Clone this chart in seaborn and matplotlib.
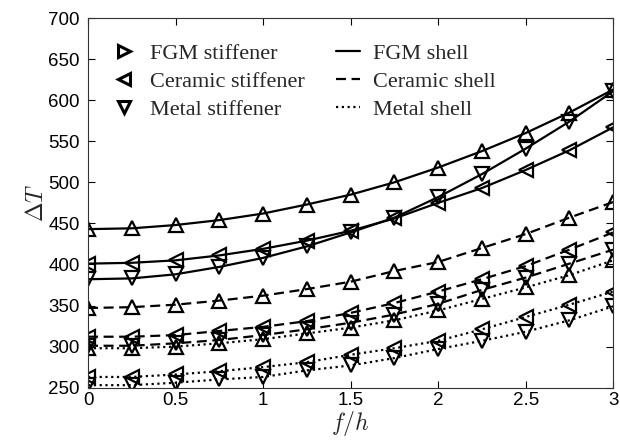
import numpy as np
import pandas as pd
import matplotlib
matplotlib.use("Agg")
import matplotlib.pyplot as plt
import seaborn as sns
from matplotlib.lines import Line2D

# f/h values (13 points)
f_h = [0, 0.25, 0.5, 0.75, 1.0, 1.25, 1.5, 1.75, 2.0, 2.25, 2.5, 2.75, 3.0]

# FGM shell
fgm_shell_fgm_stiff = [443, 444, 448, 454, 462, 473, 485, 500, 518, 538, 560, 585, 613]
fgm_shell_cer_stiff = [401, 402, 405, 411, 419, 429, 441, 456, 475, 493, 515, 539, 567]
fgm_shell_met_stiff = [382, 383, 388, 397, 408, 422, 439, 457, 482, 510, 541, 574, 611]

# Ceramic shell
cer_shell_fgm_stiff = [347, 348, 351, 356, 362, 370, 379, 392, 403, 420, 437, 457, 476]
cer_shell_cer_stiff = [312, 312, 314, 319, 324, 331, 341, 353, 367, 382, 398, 418, 439]
cer_shell_met_stiff = [301, 301, 304, 308, 314, 321, 329, 339, 352, 369, 384, 401, 418]

# Metal shell
met_shell_fgm_stiff = [298, 298, 300, 304, 309, 316, 323, 332, 344, 358, 372, 387, 405]
met_shell_cer_stiff = [263, 263, 266, 270, 275, 281, 290, 298, 307, 321, 336, 351, 367]
met_shell_met_stiff = [253, 253, 256, 260, 263, 271, 277, 286, 297, 307, 318, 332, 349]

stiffener_labels = ["FGM stiffener", "Ceramic stiffener", "Metal stiffener"]
shell_labels = ["FGM shell", "Ceramic shell", "Metal shell"]

curves = {
    ("FGM shell", "FGM stiffener"): fgm_shell_fgm_stiff,
    ("FGM shell", "Ceramic stiffener"): fgm_shell_cer_stiff,
    ("FGM shell", "Metal stiffener"): fgm_shell_met_stiff,
    ("Ceramic shell", "FGM stiffener"): cer_shell_fgm_stiff,
    ("Ceramic shell", "Ceramic stiffener"): cer_shell_cer_stiff,
    ("Ceramic shell", "Metal stiffener"): cer_shell_met_stiff,
    ("Metal shell", "FGM stiffener"): met_shell_fgm_stiff,
    ("Metal shell", "Ceramic stiffener"): met_shell_cer_stiff,
    ("Metal shell", "Metal stiffener"): met_shell_met_stiff,
}

# the plotted FGM-stiffener markers are up triangles, legend shows a right triangle
plot_markers = {"FGM stiffener": "^", "Ceramic stiffener": "<", "Metal stiffener": "v"}
legend_markers = {"FGM stiffener": ">", "Ceramic stiffener": "<", "Metal stiffener": "v"}
shell_styles = {"FGM shell": "-", "Ceramic shell": (0, (4.5, 2.5)), "Metal shell": (0, (1, 1.6))}

sns.set_style("ticks", {"xtick.direction": "in", "ytick.direction": "in"})
plt.rcParams["font.family"] = ["Liberation Sans", "DejaVu Sans"]
plt.rcParams["mathtext.fontset"] = "cm"

fig = plt.figure(figsize=(6.2, 4.41), dpi=100)
ax = fig.add_axes([0.142, 0.121, 0.847, 0.838])

for (shell, stiff), vals in curves.items():
    df = pd.DataFrame({"f_h": f_h, "dT": vals})
    sns.lineplot(
        data=df, x="f_h", y="dT", ax=ax, color="black",
        linestyle=shell_styles[shell], linewidth=1.6,
        marker=plot_markers[stiff], markersize=9.5,
        markerfacecolor="none", markeredgecolor="black", markeredgewidth=1.6,
        legend=False,
    )

ax.set_xlim(0, 3)
ax.set_ylim(250, 700)
ax.set_xticks([0, 0.5, 1, 1.5, 2, 2.5, 3])
ax.set_xticklabels(["0", "0.5", "1", "1.5", "2", "2.5", "3"])
ax.set_yticks(np.arange(250, 701, 50))
ax.tick_params(axis="both", which="both", direction="in", top=True, right=True,
               length=5, width=0.8, labelsize=13.5, colors="black")
ax.tick_params(axis="y", pad=6)
ax.tick_params(axis="x", pad=3)
for sp in ax.spines.values():
    sp.set_visible(True)
    sp.set_linewidth(0.8)
    sp.set_color("#333333")

ax.set_xlabel(r"$f/h$", fontsize=17, labelpad=0)
ax.set_ylabel(r"$\Delta T$", fontsize=17, labelpad=0)

handles = []
labels = []
for stiff in stiffener_labels:
    handles.append(Line2D([], [], linestyle="none", marker=legend_markers[stiff],
                          markersize=9, markerfacecolor="none",
                          markeredgecolor="black", markeredgewidth=2.2))
    labels.append(stiff)
for shell in shell_labels:
    handles.append(Line2D([], [], color="black", linestyle=shell_styles[shell], linewidth=1.6))
    labels.append(shell)

ax.legend(handles, labels, ncol=2, frameon=False, loc="upper left",
          bbox_to_anchor=(0.016, 0.973), prop={"family": "Liberation Serif", "size": 16},
          handlelength=1.1, handletextpad=0.6, columnspacing=1.4,
          labelspacing=0.32, borderaxespad=0.3)

fig.savefig("out.png", dpi=100)
